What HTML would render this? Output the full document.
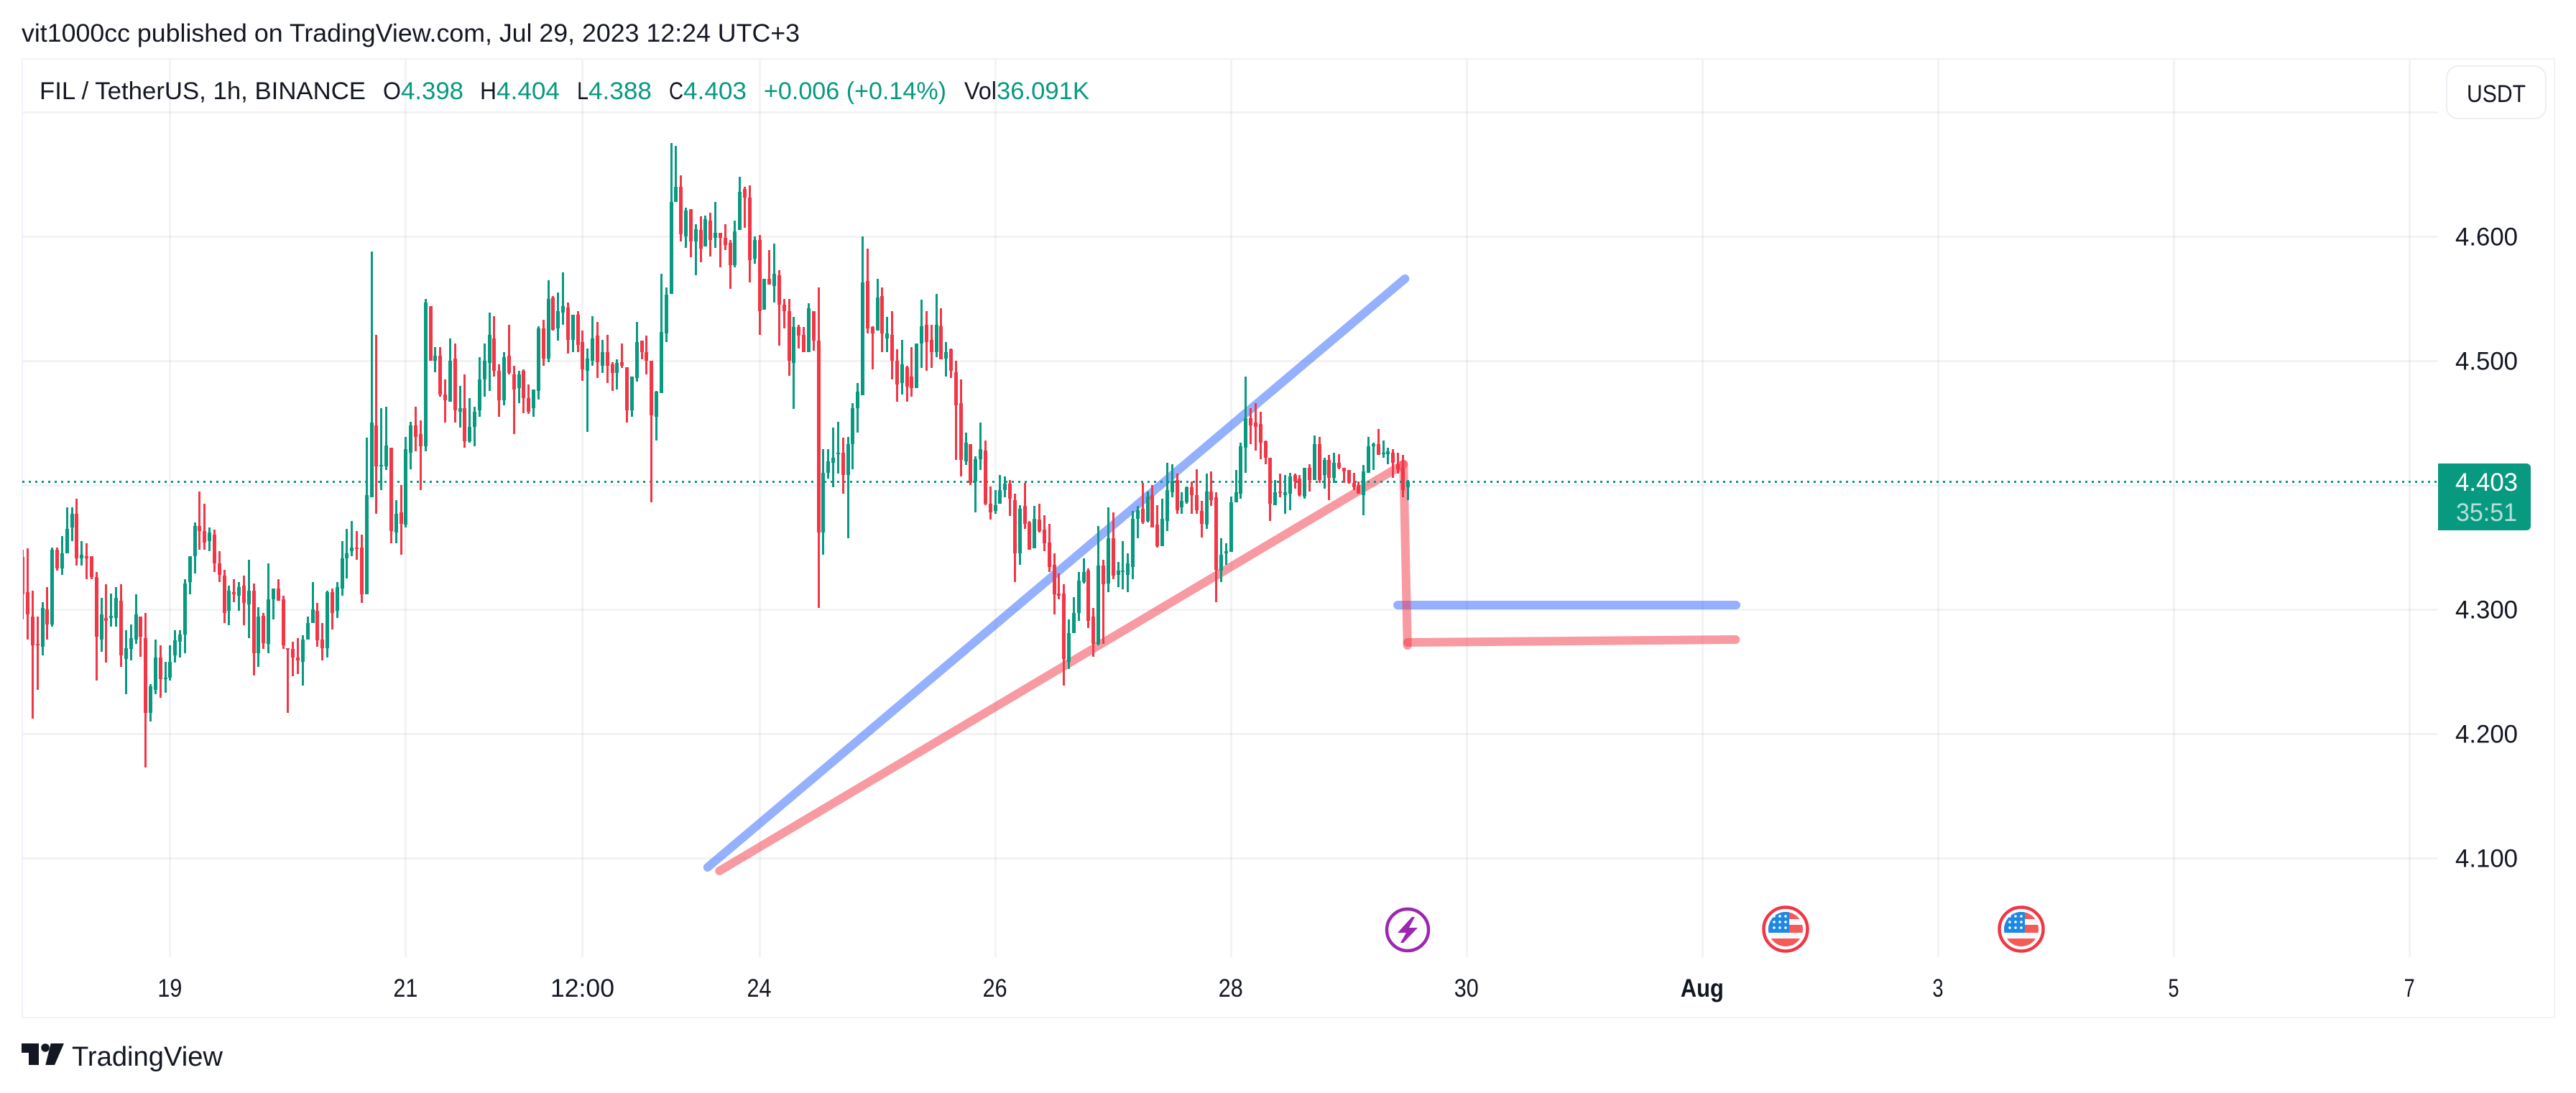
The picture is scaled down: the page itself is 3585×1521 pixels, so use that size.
<!DOCTYPE html>
<html lang="en">
<head>
<meta charset="utf-8">
<title>FIL / TetherUS 1h chart</title>
<style>
html,body{margin:0;padding:0;background:#fff;width:3585px;height:1521px;overflow:hidden}
svg{display:block}
text{font-family:"Liberation Sans",sans-serif;fill:#131722}
</style>
</head>
<body>
<svg id="chart" xmlns="http://www.w3.org/2000/svg" width="3585" height="1521" viewBox="0 0 3585 1521">
<defs>
<clipPath id="pane-clip"><rect x="32" y="82" width="3361" height="1250"/></clipPath>
<clipPath id="flag-clip-a"><circle cx="2485" cy="1293" r="24"/></clipPath>
<clipPath id="flag-clip-b"><circle cx="2813" cy="1293" r="24"/></clipPath>
</defs>
<rect x="0" y="0" width="3585" height="1521" fill="#ffffff"/>
<text x="30" y="58" font-size="35" textLength="1083" lengthAdjust="spacingAndGlyphs">vit1000cc published on TradingView.com, Jul 29, 2023 12:24 UTC+3</text>
<rect x="31" y="82" width="3524" height="1334" fill="none" stroke="#f0f3fa" stroke-width="2"/>
<g id="grid"></g>
<g id="drawings" clip-path="url(#pane-clip)"></g>
<line id="last-price-line" stroke="#089981" stroke-width="3" stroke-dasharray="3 6"/>
<g id="candles" clip-path="url(#pane-clip)"></g>

<g font-size="34">
<text x="55" y="138" textLength="454" lengthAdjust="spacingAndGlyphs">FIL / TetherUS, 1h, BINANCE</text>
<text x="533" y="138" textLength="25" lengthAdjust="spacingAndGlyphs">O</text>
<text x="558" y="138" textLength="87" lengthAdjust="spacingAndGlyphs" style="fill:#089981">4.398</text>
<text x="668" y="138" textLength="23" lengthAdjust="spacingAndGlyphs">H</text>
<text x="691" y="138" textLength="88" lengthAdjust="spacingAndGlyphs" style="fill:#089981">4.404</text>
<text x="803" y="138" textLength="16" lengthAdjust="spacingAndGlyphs">L</text>
<text x="819" y="138" textLength="88" lengthAdjust="spacingAndGlyphs" style="fill:#089981">4.388</text>
<text x="931" y="138" textLength="20" lengthAdjust="spacingAndGlyphs">C</text>
<text x="951" y="138" textLength="88" lengthAdjust="spacingAndGlyphs" style="fill:#089981">4.403</text>
<text x="1063" y="138" textLength="254" lengthAdjust="spacingAndGlyphs" style="fill:#089981">+0.006 (+0.14%)</text>
<text x="1342" y="138" textLength="45" lengthAdjust="spacingAndGlyphs">Vol</text>
<text x="1387" y="138" textLength="129" lengthAdjust="spacingAndGlyphs" style="fill:#089981">36.091K</text>
</g>

<g id="price-axis"></g>
<g id="time-axis"></g>

<g>
<rect x="3405" y="92" width="138" height="73" rx="16" fill="#ffffff" stroke="#eceef4" stroke-width="2"/>
<text x="3433" y="142" font-size="34" textLength="82" lengthAdjust="spacingAndGlyphs">USDT</text>
</g>

<g>
<path d="M3393 645H3516a6 6 0 0 1 6 6V732a6 6 0 0 1 -6 6H3393Z" fill="#089981"/>
<text x="3417" y="683" font-size="35" textLength="87" lengthAdjust="spacingAndGlyphs" style="fill:#ffffff">4.403</text>
<text x="3418" y="725" font-size="35" textLength="85" lengthAdjust="spacingAndGlyphs" style="fill:#b5e0d9">35:51</text>
</g>

<g>
<circle cx="1959" cy="1294" r="29" fill="#ffffff" stroke="#9c27b0" stroke-width="4.5"/>
<polygon points="1965,1276 1969,1276 1961,1291 1973,1291 1953,1312 1949,1312 1957,1298 1945,1298" fill="#9c27b0"/>
</g>

<g>
<circle cx="2485" cy="1293" r="30.5" fill="#ffffff" stroke="#f23645" stroke-width="4.5"/>
<g clip-path="url(#flag-clip-a)">
<rect x="2461" y="1269" width="48" height="48" fill="#f8f9fd"/>
<rect x="2461" y="1269" width="48" height="10" fill="#f45b57"/>
<rect x="2461" y="1287" width="48" height="11" fill="#f45b57"/>
<rect x="2461" y="1306" width="48" height="11" fill="#f45b57"/>
<rect x="2461" y="1269" width="29" height="29" fill="#1e88e5"/>
<g fill="#ffffff">
<circle cx="2469" cy="1275" r="1.8"/><circle cx="2477" cy="1275" r="1.8"/><circle cx="2485" cy="1275" r="1.8"/>
<circle cx="2469" cy="1283" r="1.8"/><circle cx="2477" cy="1283" r="1.8"/><circle cx="2485" cy="1283" r="1.8"/>
<circle cx="2469" cy="1291" r="1.8"/><circle cx="2477" cy="1291" r="1.8"/><circle cx="2485" cy="1291" r="1.8"/>
</g>
</g>
</g>

<g>
<circle cx="2813" cy="1293" r="30.5" fill="#ffffff" stroke="#f23645" stroke-width="4.5"/>
<g clip-path="url(#flag-clip-b)">
<rect x="2789" y="1269" width="48" height="48" fill="#f8f9fd"/>
<rect x="2789" y="1269" width="48" height="10" fill="#f45b57"/>
<rect x="2789" y="1287" width="48" height="11" fill="#f45b57"/>
<rect x="2789" y="1306" width="48" height="11" fill="#f45b57"/>
<rect x="2789" y="1269" width="29" height="29" fill="#1e88e5"/>
<g fill="#ffffff">
<circle cx="2797" cy="1275" r="1.8"/><circle cx="2805" cy="1275" r="1.8"/><circle cx="2813" cy="1275" r="1.8"/>
<circle cx="2797" cy="1283" r="1.8"/><circle cx="2805" cy="1283" r="1.8"/><circle cx="2813" cy="1283" r="1.8"/>
<circle cx="2797" cy="1291" r="1.8"/><circle cx="2805" cy="1291" r="1.8"/><circle cx="2813" cy="1291" r="1.8"/>
</g>
</g>
</g>

<g>
<polygon points="30,1452 54,1452 54,1482 40,1482 40,1465 30,1465" fill="#131722"/>
<circle cx="63" cy="1458" r="5.8" fill="#131722"/>
<polygon points="70.7,1452 89,1452 76,1482 63.3,1482" fill="#131722"/>
<text x="100" y="1483" font-size="38" textLength="210" lengthAdjust="spacingAndGlyphs">TradingView</text>
</g>
</svg>

<script>
const opens = [
4.342,4.314,4.294,4.272,4.270,4.300,4.288,4.348,4.333,4.345,
4.366,4.377,4.341,4.343,4.343,4.326,4.276,4.293,4.293,4.293,
4.307,4.260,4.268,4.276,4.294,4.277,4.217,4.235,4.261,4.244,
4.245,4.263,4.274,4.280,4.322,4.343,4.367,4.363,4.355,4.360,
4.337,4.327,4.299,4.314,4.311,4.319,4.304,4.315,4.265,4.295,
4.272,4.308,4.317,4.308,4.269,4.268,4.261,4.258,4.276,4.289,
4.299,4.276,4.269,4.314,4.299,4.317,4.341,4.347,4.350,4.350,
4.312,4.390,4.448,4.415,4.415,4.430,4.362,4.378,4.368,4.426,
4.448,4.441,4.431,4.544,4.500,4.504,4.473,4.467,4.502,4.459,
4.462,4.435,4.447,4.460,4.485,4.498,4.518,4.492,4.468,4.504,
4.489,4.478,4.492,4.470,4.462,4.476,4.526,4.502,4.551,4.526,
4.539,4.543,4.517,4.537,4.515,4.492,4.500,4.520,4.496,4.507,
4.497,4.490,4.499,4.495,4.460,4.486,4.516,4.507,4.500,4.455,
4.474,4.522,4.554,4.628,4.640,4.600,4.622,4.596,4.605,4.592,
4.613,4.599,4.603,4.599,4.595,4.577,4.605,4.638,4.631,4.582,
4.597,4.541,4.566,4.560,4.569,4.545,4.540,4.498,4.527,4.521,
4.507,4.540,4.516,4.362,4.410,4.418,4.425,4.426,4.408,4.433,
4.462,4.472,4.564,4.527,4.524,4.552,4.518,4.521,4.500,4.482,
4.495,4.487,4.478,4.514,4.529,4.517,4.507,4.528,4.502,4.509,
4.491,4.466,4.419,4.433,4.403,4.421,4.428,4.385,4.379,4.385,
4.396,4.401,4.388,4.345,4.383,4.370,4.349,4.372,4.364,4.354,
4.336,4.313,4.313,4.258,4.281,4.297,4.322,4.331,4.294,4.272,
4.335,4.321,4.357,4.328,4.330,4.328,4.334,4.373,4.381,4.371,
4.392,4.368,4.351,4.371,4.394,4.404,4.382,4.386,4.398,4.392,
4.379,4.368,4.395,4.390,4.331,4.345,4.346,4.386,4.393,4.430,
4.454,4.450,4.449,4.435,4.422,4.384,4.395,4.392,4.393,4.408,
4.405,4.391,4.414,4.404,4.433,4.408,4.420,4.406,4.418,4.414,
4.412,4.402,4.400,4.392,4.410,4.431,4.433,4.425,4.425,4.426,
4.417,4.414,4.398];

const highs = [
4.348,4.349,4.315,4.294,4.306,4.318,4.350,4.350,4.359,4.382,
4.382,4.389,4.355,4.353,4.343,4.330,4.309,4.320,4.313,4.318,
4.320,4.283,4.288,4.312,4.294,4.297,4.240,4.276,4.271,4.258,
4.271,4.283,4.283,4.324,4.343,4.370,4.395,4.385,4.366,4.364,
4.347,4.332,4.319,4.324,4.322,4.327,4.340,4.321,4.302,4.297,
4.337,4.317,4.324,4.311,4.269,4.274,4.277,4.279,4.294,4.322,
4.305,4.289,4.315,4.317,4.322,4.355,4.365,4.371,4.363,4.360,
4.438,4.588,4.521,4.462,4.463,4.430,4.388,4.400,4.439,4.451,
4.463,4.452,4.550,4.544,4.511,4.511,4.485,4.518,4.514,4.480,
4.489,4.470,4.463,4.503,4.514,4.539,4.536,4.497,4.507,4.529,
4.496,4.492,4.493,4.481,4.477,4.528,4.533,4.565,4.552,4.555,
4.571,4.547,4.537,4.540,4.524,4.510,4.536,4.531,4.517,4.521,
4.499,4.501,4.514,4.495,4.487,4.531,4.516,4.520,4.500,4.476,
4.570,4.559,4.675,4.673,4.649,4.623,4.622,4.610,4.616,4.617,
4.619,4.628,4.603,4.610,4.597,4.613,4.648,4.640,4.641,4.600,
4.601,4.566,4.589,4.594,4.573,4.550,4.550,4.535,4.529,4.527,
4.546,4.540,4.559,4.429,4.429,4.446,4.451,4.438,4.439,4.466,
4.482,4.600,4.590,4.528,4.566,4.559,4.535,4.540,4.509,4.517,
4.496,4.511,4.514,4.549,4.540,4.529,4.554,4.542,4.515,4.510,
4.500,4.485,4.442,4.433,4.423,4.450,4.436,4.399,4.396,4.408,
4.407,4.404,4.393,4.384,4.402,4.371,4.383,4.385,4.376,4.369,
4.345,4.329,4.320,4.292,4.310,4.330,4.341,4.333,4.301,4.367,
4.340,4.382,4.378,4.338,4.355,4.345,4.379,4.383,4.402,4.395,
4.400,4.384,4.389,4.418,4.417,4.409,4.394,4.399,4.403,4.413,
4.387,4.409,4.411,4.394,4.357,4.353,4.391,4.412,4.434,4.487,
4.462,4.466,4.459,4.436,4.422,4.404,4.409,4.408,4.410,4.409,
4.408,4.414,4.417,4.440,4.439,4.422,4.424,4.426,4.425,4.414,
4.412,4.410,4.403,4.416,4.439,4.434,4.445,4.436,4.430,4.429,
4.426,4.424,4.404];

const lows = [
4.292,4.276,4.212,4.235,4.263,4.276,4.286,4.331,4.328,4.345,
4.355,4.335,4.335,4.324,4.324,4.243,4.266,4.257,4.286,4.286,
4.254,4.232,4.259,4.272,4.262,4.173,4.210,4.232,4.229,4.233,
4.243,4.257,4.261,4.265,4.312,4.329,4.348,4.348,4.347,4.330,
4.322,4.289,4.287,4.306,4.299,4.287,4.277,4.247,4.254,4.268,
4.265,4.292,4.307,4.268,4.217,4.246,4.248,4.239,4.276,4.289,
4.270,4.259,4.261,4.284,4.293,4.311,4.325,4.343,4.340,4.305,
4.312,4.390,4.377,4.396,4.412,4.353,4.353,4.344,4.366,4.413,
4.427,4.396,4.427,4.500,4.491,4.471,4.450,4.467,4.450,4.446,
4.430,4.434,4.431,4.455,4.471,4.476,4.487,4.455,4.464,4.489,
4.441,4.466,4.458,4.457,4.455,4.469,4.496,4.499,4.524,4.516,
4.529,4.506,4.507,4.507,4.484,4.443,4.496,4.486,4.490,4.482,
4.476,4.477,4.494,4.450,4.455,4.483,4.501,4.489,4.386,4.436,
4.474,4.515,4.554,4.628,4.596,4.591,4.583,4.569,4.579,4.592,
4.584,4.591,4.575,4.589,4.558,4.575,4.605,4.607,4.563,4.578,
4.521,4.541,4.561,4.547,4.512,4.526,4.488,4.461,4.510,4.507,
4.507,4.508,4.301,4.344,4.405,4.398,4.409,4.393,4.357,4.413,
4.442,4.472,4.522,4.493,4.524,4.507,4.507,4.485,4.467,4.473,
4.467,4.471,4.478,4.494,4.492,4.494,4.503,4.501,4.487,4.486,
4.420,4.407,4.416,4.400,4.378,4.412,4.384,4.372,4.377,4.385,
4.390,4.375,4.322,4.336,4.365,4.348,4.349,4.362,4.347,4.330,
4.296,4.308,4.239,4.252,4.281,4.291,4.321,4.285,4.262,4.271,
4.272,4.314,4.324,4.318,4.316,4.314,4.324,4.357,4.369,4.370,
4.366,4.350,4.351,4.363,4.390,4.377,4.377,4.385,4.377,4.377,
4.358,4.365,4.383,4.306,4.322,4.336,4.346,4.386,4.389,4.410,
4.433,4.428,4.421,4.417,4.371,4.384,4.390,4.377,4.380,4.397,
4.391,4.389,4.395,4.404,4.402,4.397,4.388,4.402,4.413,4.402,
4.401,4.396,4.393,4.376,4.410,4.412,4.424,4.422,4.417,4.406,
4.409,4.390,4.388];

const closes = [
4.312,4.296,4.271,4.271,4.301,4.288,4.348,4.333,4.345,4.365,
4.377,4.341,4.344,4.341,4.326,4.278,4.296,4.291,4.295,4.309,
4.263,4.269,4.277,4.296,4.278,4.217,4.238,4.261,4.244,4.245,
4.258,4.275,4.280,4.321,4.343,4.367,4.363,4.354,4.362,4.337,
4.328,4.297,4.315,4.312,4.318,4.305,4.315,4.265,4.294,4.273,
4.308,4.317,4.307,4.271,4.268,4.261,4.259,4.276,4.289,4.300,
4.275,4.269,4.314,4.297,4.318,4.341,4.345,4.350,4.349,4.312,
4.392,4.450,4.415,4.416,4.432,4.363,4.377,4.369,4.429,4.448,
4.439,4.431,4.547,4.500,4.504,4.473,4.468,4.500,4.460,4.462,
4.435,4.447,4.459,4.485,4.500,4.521,4.492,4.468,4.503,4.490,
4.477,4.489,4.470,4.459,4.477,4.526,4.502,4.550,4.525,4.540,
4.544,4.517,4.537,4.513,4.493,4.502,4.518,4.499,4.507,4.496,
4.490,4.498,4.496,4.460,4.487,4.515,4.507,4.500,4.456,4.475,
4.523,4.553,4.628,4.640,4.602,4.621,4.596,4.606,4.590,4.614,
4.597,4.603,4.599,4.593,4.577,4.604,4.636,4.631,4.581,4.597,
4.540,4.566,4.561,4.570,4.545,4.540,4.500,4.527,4.520,4.507,
4.542,4.516,4.362,4.410,4.419,4.422,4.426,4.408,4.433,4.462,
4.475,4.563,4.526,4.522,4.551,4.522,4.522,4.500,4.481,4.497,
4.479,4.478,4.514,4.528,4.515,4.507,4.529,4.501,4.507,4.492,
4.464,4.420,4.434,4.402,4.421,4.429,4.385,4.378,4.384,4.396,
4.401,4.389,4.345,4.381,4.369,4.348,4.373,4.363,4.353,4.334,
4.312,4.311,4.260,4.281,4.297,4.323,4.330,4.291,4.272,4.335,
4.320,4.357,4.327,4.331,4.331,4.337,4.373,4.380,4.370,4.391,
4.366,4.351,4.373,4.396,4.403,4.380,4.387,4.398,4.392,4.380,
4.369,4.395,4.388,4.332,4.344,4.347,4.386,4.394,4.431,4.454,
4.448,4.447,4.434,4.422,4.385,4.394,4.394,4.394,4.407,4.403,
4.392,4.414,4.404,4.433,4.404,4.420,4.406,4.418,4.414,4.411,
4.402,4.398,4.393,4.411,4.431,4.433,4.424,4.426,4.427,4.418,
4.413,4.396,4.403];

const priceTicks = [4.7, 4.6, 4.5, 4.4, 4.3, 4.2, 4.1];
const priceTickLabels = ['', '4.600', '4.500', '', '4.300', '4.200', '4.100'];
const timeTickBars = [30, 78, 114, 150, 198, 246, 294, 342, 390, 438, 486];
const timeTickLabels = ['19', '21', '12:00', '24', '26', '28', '30', 'Aug', '3', '5', '7'];
const lastPrice = 4.403;

const blueRiseBars = [139.5, 281.5];
const blueRisePrices = [4.0925, 4.566];
const blueFlatBars = [280, 348.9];
const blueFlatPrices = [4.3035, 4.3035];
const redRiseBars = [141.9, 281.2];
const redRisePrices = [4.0896, 4.4168];
const redDropBars = [281.2, 282];
const redDropPrices = [4.4168, 4.2711];
const redFlatBars = [282, 348.8];
const redFlatPrices = [4.2734, 4.2757];

const SVG_NS = 'http://www.w3.org/2000/svg';
const GRID_COLOR = 'rgba(42,46,57,0.06)';
const UP_COLOR = '#089981';
const DOWN_COLOR = '#f23645';

function xScale(bar) { return 31.3 + bar * 6.835; }
function yScale(price) { return 502 + (4.5 - price) * 1730; }

function make(tag, parent, attrs) {
  const el = document.createElementNS(SVG_NS, tag);
  Object.keys(attrs).forEach(function (k) { el.setAttribute(k, attrs[k]); });
  parent.appendChild(el);
  return el;
}

const gridGroup = document.getElementById('grid');
priceTicks.forEach(function (p) {
  const line = make('rect', gridGroup, { x: 32, y: Math.round(yScale(p)) - 1, width: 3361, height: 3, fill: GRID_COLOR });
  
  
});
timeTickBars.forEach(function (b) {
  const line = make('rect', gridGroup, { x: Math.round(xScale(b)) - 1, y: 83, width: 3, height: 1249, fill: GRID_COLOR });
  
  
});

const drawingsGroup = document.getElementById('drawings');
function drawSegment(bars, prices, color, name) {
  const seg = make('line', drawingsGroup, {
    x1: xScale(bars[0]), y1: yScale(prices[0]),
    x2: xScale(bars[1]), y2: yScale(prices[1]),
    stroke: color, 'stroke-width': 12, 'stroke-linecap': 'round'
  });
  
  
}
drawSegment(blueRiseBars, blueRisePrices, 'rgba(41,98,255,0.5)', 'blue-rising-trend-line');
drawSegment(blueFlatBars, blueFlatPrices, 'rgba(41,98,255,0.5)', 'blue-flat-trend-line');
drawSegment(redRiseBars, redRisePrices, 'rgba(242,54,69,0.5)', 'red-rising-trend-line');
drawSegment(redDropBars, redDropPrices, 'rgba(242,54,69,0.5)', 'red-drop-trend-line');
drawSegment(redFlatBars, redFlatPrices, 'rgba(242,54,69,0.5)', 'red-flat-trend-line');

const priceLine = document.getElementById('last-price-line');
const priceLineY = Math.round(yScale(lastPrice)) + 0.5;
priceLine.setAttribute('x1', 31);
priceLine.setAttribute('x2', 3393);
priceLine.setAttribute('y1', priceLineY);
priceLine.setAttribute('y2', priceLineY);

const candleGroup = document.getElementById('candles');
opens.forEach(function (o, i) {
  const h = highs[i], l = lows[i], c = closes[i];
  const color = c >= o ? UP_COLOR : DOWN_COLOR;
  const cx = Math.round(xScale(i));
  const wickTop = Math.round(yScale(h));
  const wickBottom = Math.round(yScale(l));
  const wick = make('rect', candleGroup, {
    x: cx - 1, y: wickTop, width: 3, height: Math.max(1, wickBottom - wickTop), fill: color
  });
  
  
  const top = Math.round(yScale(Math.max(o, c)));
  const bot = Math.round(yScale(Math.min(o, c)));
  const body = make('rect', candleGroup, {
    x: cx - 2, y: top, width: 5, height: Math.max(2, bot - top), fill: color
  });
  
  
});

const priceAxis = document.getElementById('price-axis');
priceTicks.forEach(function (p, i) {
  if (!priceTickLabels[i]) return;
  const label = make('text', priceAxis, {
    x: 3417, y: yScale(p) + 12.5, 'font-size': 35, textLength: 87, lengthAdjust: 'spacingAndGlyphs'
  });
  label.textContent = priceTickLabels[i];
  
  
});

const timeAxis = document.getElementById('time-axis');
timeTickBars.forEach(function (b, i) {
  const text = timeTickLabels[i];
  const isMonth = text === 'Aug';
  const widthPerChar = text.length === 5 ? 17.8 : (isMonth ? 20 : (text.length === 1 ? 15 : 17));
  const width = widthPerChar * text.length;
  const label = make('text', timeAxis, {
    x: xScale(b) - width / 2, y: 1387, 'font-size': 35,
    textLength: width, lengthAdjust: 'spacingAndGlyphs',
    'font-weight': isMonth ? 'bold' : 'normal'
  });
  label.textContent = text;
  
  
});
</script>
</body>
</html>
